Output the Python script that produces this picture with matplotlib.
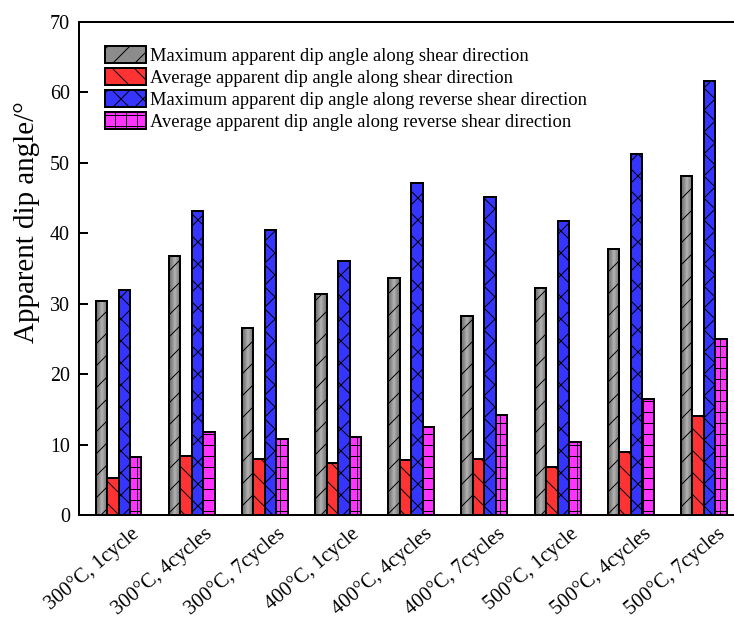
import matplotlib
matplotlib.use("Agg")
import matplotlib.pyplot as plt
import matplotlib.transforms as mtransforms
from matplotlib.colors import LinearSegmentedColormap
from matplotlib.patches import Patch
import numpy as np

categories = ["300°C, 1cycle", "300°C, 4cycles", "300°C, 7cycles",
              "400°C, 1cycle", "400°C, 4cycles", "400°C, 7cycles",
              "500°C, 1cycle", "500°C, 4cycles", "500°C, 7cycles"]
max_shear = [30.4, 36.8, 26.5, 31.4, 33.7, 28.2, 32.2, 37.8, 48.1]
avg_shear = [5.2, 8.4, 8.0, 7.4, 7.8, 8.0, 6.8, 8.9, 14.1]
max_reverse = [32.0, 43.2, 40.5, 36.0, 47.2, 45.1, 41.7, 51.3, 61.6]
avg_reverse = [8.2, 11.8, 10.8, 11.1, 12.5, 14.2, 10.4, 16.5, 25.0]
series_names = ["Maximum apparent dip angle along shear direction",
                "Average apparent dip angle along shear direction",
                "Maximum apparent dip angle along reverse shear direction",
                "Average apparent dip angle along reverse shear direction"]

DPI = 66
S = 72.0 / DPI  # pixels -> points

plt.rcParams['font.family'] = ['Liberation Serif', 'DejaVu Serif']
plt.rcParams['hatch.linewidth'] = 1.0 * S

fig = plt.figure(figsize=(734 / DPI, 619 / DPI), dpi=DPI)
W, H = 734.0, 619.0
ax_left, ax_right, ax_top, ax_bottom = 79.0, 743.5, 22.0, 515.0
ax = fig.add_axes([ax_left / W, 1 - ax_bottom / H,
                   (ax_right - ax_left) / W, (ax_bottom - ax_top) / H])

x = np.arange(len(categories))
w = 0.157
colors = ["#8c8c8c", "#ff3333", "#3535ff", "#ff33ff"]
hatches = ["/", "\\", "x", "+"]
series = [max_shear, avg_shear, max_reverse, avg_reverse]
gray_cmap = LinearSegmentedColormap.from_list(
    "g", ["#6a6a6a", "#8a8a8a", "#b4b4b4", "#8c8c8c", "#6e6e6e"])
grad = np.linspace(0, 1, 64).reshape(1, -1)
handles = []
for i, (vals, c, h, name) in enumerate(zip(series, colors, hatches, series_names)):
    if i == 0:
        bars = ax.bar(x + (i - 1.5) * w, vals, w, facecolor="none", edgecolor="black",
                      hatch=h, linewidth=2.0 * S, zorder=3)
        for b in bars:
            ax.imshow(grad, cmap=gray_cmap, aspect="auto", zorder=2,
                      extent=(b.get_x(), b.get_x() + b.get_width(), 0, b.get_height()))
    else:
        ax.bar(x + (i - 1.5) * w, vals, w, color=c, edgecolor="black", hatch=h,
               linewidth=2.0 * S, zorder=3)
    handles.append(Patch(facecolor=c, edgecolor="black", hatch=h,
                         linewidth=2.0 * S, label=name))

ax.set_xlim(-0.54, 8.54)
ax.set_ylim(0, 70)
ax.set_yticks(np.arange(0, 71, 10))
ax.set_xticks(x)
ax.set_xticklabels([])
label_tf = ax.get_xaxis_transform() + mtransforms.ScaledTranslation(
    12 / DPI, -9 / DPI, fig.dpi_scale_trans)
for xi, cat in zip(x, categories):
    ax.text(xi, 0, cat, transform=label_tf, rotation=40, ha="right", va="top",
            rotation_mode="anchor", fontsize=20.5 * S)
ax.tick_params(axis="y", direction="in", labelsize=20 * S, length=9 * S,
               width=2 * S, pad=9 * S)
ax.tick_params(axis="x", length=0)
ax.spines["right"].set_visible(False)
for sp in ["left", "bottom", "top"]:
    ax.spines[sp].set_linewidth(2.0 * S)
    ax.spines[sp].set_zorder(5)
ax.set_ylabel("Apparent dip angle/°", fontsize=29 * S)
ax.yaxis.set_label_coords((40 - ax_left) / (ax_right - ax_left),
                          (ax_bottom - 222) / (ax_bottom - ax_top))

ax.legend(handles=handles, loc="upper left",
          bbox_to_anchor=((105 - ax_left) / (ax_right - ax_left),
                          (ax_bottom - 46) / (ax_bottom - ax_top)),
          frameon=False, fontsize=18.5 * S, handlelength=2.2, handleheight=1.05,
          handletextpad=0.25, labelspacing=0.17, borderaxespad=0, borderpad=0)

fig.savefig("out.png", dpi=DPI)
